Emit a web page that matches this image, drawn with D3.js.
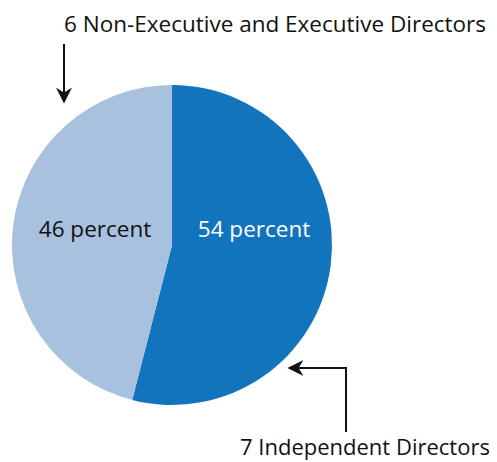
<!DOCTYPE html>
<html lang="en">
<head>
  <meta charset="UTF-8" />
  <title>Board composition</title>
  <style>
    html, body { margin: 0; padding: 0; background: #fff; overflow: hidden; }
    svg { font-family: "Open Sans", sans-serif; }
    .label { font-size: 22.5px; fill: #111; }
    .bottom { font-size: 22px; }
  </style>
</head>
<body>
  <svg width="497" height="462"></svg>

  <script src="https://cdnjs.cloudflare.com/ajax/libs/d3/7.8.5/d3.min.js"></script>
  <script>
    const groups = ["Independent Directors", "Non-Executive and Executive Directors"];
    const counts = [7, 6];
    const shares = [54, 46];
    const colors = ["#1174bd", "#a7c1de"];
    const textColors = ["#fff", "#111"];

    const svg = d3.select("svg");
    const cx = 172, cy = 245, radius = 160;

    const pie = d3.pie().sort(null).value(d => d.share);
    const arc = d3.arc().innerRadius(0).outerRadius(radius);
    const data = groups.map((g, i) => ({ group: g, count: counts[i], share: shares[i] }));
    const arcs = pie(data);

    const g = svg.append("g").attr("transform", `translate(${cx},${cy})`);

    g.selectAll("path")
      .data(arcs)
      .join("path")
      .attr("d", arc)
      .attr("fill", (d, i) => colors[i]);

    const labelArc = d3.arc().innerRadius(radius * 0.52).outerRadius(radius * 0.52);
    g.selectAll("text.pct")
      .data(arcs)
      .join("text")
      .attr("class", "pct label")
      .attr("x", d => labelArc.centroid(d)[0] > 0 ? 82 : -77)
      .attr("y", -8)
      .attr("text-anchor", "middle")
      .style("fill", (d, i) => textColors[i])
      .text(d => `${d.data.share} percent`);

    // arrowhead
    svg.append("defs").append("marker")
      .attr("id", "head")
      .attr("viewBox", "0 0 10 10")
      .attr("refX", 9).attr("refY", 5)
      .attr("markerWidth", 8).attr("markerHeight", 8)
      .attr("markerUnits", "strokeWidth")
      .attr("orient", "auto")
      .append("path")
      .attr("d", "M0,0 L10,5 L0,10 L3,5 Z")
      .attr("fill", "#111");

    // top label + arrow
    svg.append("text").attr("class", "label")
      .attr("x", 64).attr("y", 32)
      .text(`${counts[1]} ${groups[1]}`);
    svg.append("path")
      .attr("d", "M64,44 L64,102")
      .attr("stroke", "#111").attr("stroke-width", 2).attr("fill", "none")
      .attr("marker-end", "url(#head)");

    // bottom label + arrow
    svg.append("text").attr("class", "label bottom")
      .attr("x", 240).attr("y", 455)
      .text(`${counts[0]} ${groups[0]}`);
    svg.append("path")
      .attr("d", "M346,432 L346,368 L289,368")
      .attr("stroke", "#111").attr("stroke-width", 2).attr("fill", "none")
      .attr("marker-end", "url(#head)");
  </script>
</body>
</html>
